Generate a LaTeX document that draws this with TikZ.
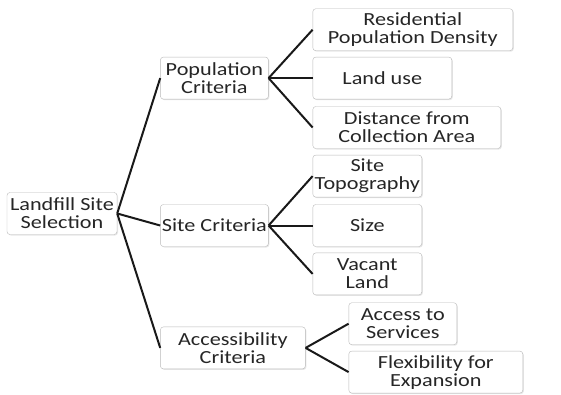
\documentclass[tikz,border=0pt]{standalone}
\usepackage{fontspec}
\setmainfont{Carlito}[FakeStretch=1.2]
\usepackage{tikz}
\usetikzlibrary{positioning,shadows}

\begin{document}
\begin{tikzpicture}[x=1pt,y=-1pt,node distance=44pt,
                    conn/.style={line width=2pt,black!90}]
  \tikzstyle{every node}=[font=\fontsize{18.5}{18}\selectfont,text=black!85]
  \tikzstyle{box}=[draw=gray!55,fill=white,rounded corners=3pt,align=center,
                   inner sep=1pt,minimum height=42pt,
                   drop shadow={opacity=0.2,shadow xshift=1pt,shadow yshift=-1pt}]

  \useasboundingbox (0,0) rectangle (561,394);

  % root and the three criteria
  \node[box,minimum width=110pt] (root) at (62,213.5) {Landfill Site\\Selection};
  \node[box,minimum width=108pt] (site) [right=43pt of root,yshift=-12pt] {Site Criteria};
  \node[box,minimum width=108pt] (pop)  [above=105pt of site] {Population\\Criteria};
  \node[box,minimum width=145pt] (acc)  [below=80pt of site.south west,anchor=north west] {Accessibility\\Criteria};

  % population criteria
  \node[box,minimum width=139pt] (land) [right=44pt of pop] {Land use};
  \node[box,minimum width=200pt] (res)  [above=6pt of land.north west,anchor=south west] {Residential\\Population Density};
  \node[box,minimum width=188pt] (dist) [below=7pt of land.south west,anchor=north west] {Distance from\\Collection Area};

  % site criteria
  \node[box,minimum width=109pt] (size) [right=44pt of site] {Size};
  \node[box,minimum width=109pt] (topo) [above=7pt of size] {Site\\Topography};
  \node[box,minimum width=109pt] (vac)  [below=6pt of size] {Vacant\\Land};

  % accessibility criteria
  \node[box,minimum width=108pt] (serv) [right=43pt of acc.east,anchor=south west,yshift=3pt] {Access to\\Services};
  \node[box,minimum width=174pt] (flex) [below=6pt of serv.south west,anchor=north west] {Flexibility for\\Expansion};

  \path[conn] (root.east) edge (pop.west)
                          edge (site.west)
                          edge (acc.west)
              (pop.east)  edge (res.west)
                          edge (land.west)
                          edge (dist.west)
              (site.east) edge (topo.west)
                          edge (size.west)
                          edge (vac.west)
              (acc.east)  edge (serv.west)
                          edge (flex.west);
\end{tikzpicture}
\end{document}
